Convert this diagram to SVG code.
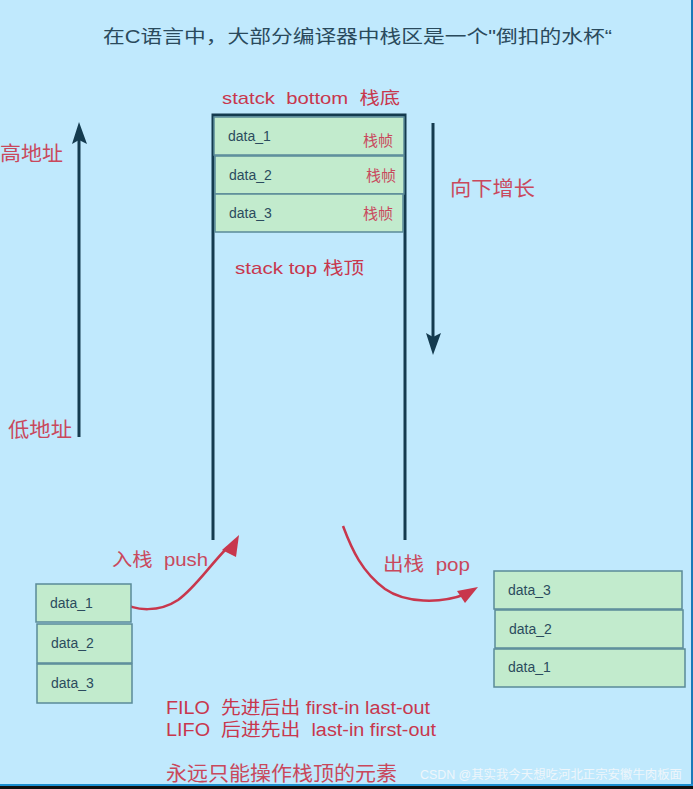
<svg xmlns="http://www.w3.org/2000/svg" width="693" height="789" viewBox="0 0 693 789" xml:space="preserve">
<style>
text{font-family:"Liberation Sans","Noto Sans CJK SC",sans-serif;white-space:pre}
.red{fill:#c8374d}
.lred{fill:#c9485c}
.dk{fill:#2a4a5c}
.frame{fill:#c2ebcd;stroke:#5a8a98;stroke-width:1.5}
.lbl{font-size:14px;fill:#2b4b5e}
.zh{font-size:15px;fill:#c9485c;font-family:"Noto Sans CJK SC",sans-serif}
.wall{stroke:#143b4f;stroke-width:3;fill:none}
.curve{stroke:#c8374d;stroke-width:2.5;fill:none}
</style>
<rect x="0" y="0" width="693" height="789" fill="#c0e9fd"/>
<rect x="691" y="0" width="2" height="789" fill="#1a7ab8"/>
<rect x="0" y="784" width="693" height="2" fill="#1a8fd0"/>
<rect x="0" y="786" width="693" height="3" fill="#101010"/>
<g id="title"><text x="103" y="43" font-size="18" class="dk" textLength="509" lengthAdjust="spacingAndGlyphs">在C语言中，大部分编译器中栈区是一个"倒扣的水杯“</text></g>
<g id="stack">
<text x="222" y="104" font-size="17" class="red" textLength="178" lengthAdjust="spacingAndGlyphs">statck  bottom  栈底</text>
<path class="wall" d="M213,540 V115 H405 V540"/>
<g id="frame1"><rect class="frame" x="214" y="117" width="190" height="38"/><text class="lbl" x="228" y="141">data_1</text><text class="zh" x="363" y="146">栈帧</text></g>
<g id="frame2"><rect class="frame" x="215" y="156" width="189" height="38"/><text class="lbl" x="229" y="180">data_2</text><text class="zh" x="366" y="181">栈帧</text></g>
<g id="frame3"><rect class="frame" x="215" y="194" width="188" height="38"/><text class="lbl" x="229" y="218">data_3</text><text class="zh" x="363" y="219">栈帧</text></g>
<text x="235" y="274" font-size="17" class="red" textLength="129" lengthAdjust="spacingAndGlyphs">stack top 栈顶</text>
</g>
<g id="addr">
<text x="0" y="161" font-size="20" class="lred" textLength="63" lengthAdjust="spacingAndGlyphs">高地址</text>
<text x="8" y="437" font-size="20" class="lred" textLength="64" lengthAdjust="spacingAndGlyphs">低地址</text>
<text x="450" y="196" font-size="20" class="lred" textLength="85" lengthAdjust="spacingAndGlyphs">向下增长</text>
</g>
<g id="connectors">
<line x1="79" y1="437" x2="79" y2="140" stroke="#143b4f" stroke-width="3"/>
<polygon points="79,122 72,144 79,140 87,144" fill="#143b4f"/>
<line x1="433" y1="123" x2="433" y2="337" stroke="#143b4f" stroke-width="3"/>
<polygon points="433,355 426,333 433,337 441,333" fill="#143b4f"/>
<path class="curve" d="M120,601 C135,612 160,612 178,600 C195,588 210,565 228,547"/>
<polygon points="239,535 222,550 236,557" fill="#c8374d"/>
<path class="curve" d="M343,526 C352,550 362,572 385,589 C405,603 440,604 466,594"/>
<polygon points="478,587 457,591 465,603" fill="#c8374d"/>
</g>
<g id="push">
<text x="112" y="566" font-size="18" class="lred" textLength="96" lengthAdjust="spacingAndGlyphs">入栈  push</text>
<g id="in1"><rect class="frame" x="36" y="584" width="95" height="38"/><text class="lbl" x="50" y="608">data_1</text></g>
<g id="in2"><rect class="frame" x="37" y="624" width="95" height="39"/><text class="lbl" x="51" y="648">data_2</text></g>
<g id="in3"><rect class="frame" x="37" y="664" width="95" height="39"/><text class="lbl" x="51" y="688">data_3</text></g>
</g>
<g id="pop">
<text x="383" y="571" font-size="19" class="lred" textLength="87" lengthAdjust="spacingAndGlyphs">出栈  pop</text>
<g id="out3"><rect class="frame" x="494" y="571" width="188" height="38"/><text class="lbl" x="508" y="595">data_3</text></g>
<g id="out2"><rect class="frame" x="495" y="610" width="188" height="38"/><text class="lbl" x="509" y="634">data_2</text></g>
<g id="out1"><rect class="frame" x="494" y="649" width="191" height="38"/><text class="lbl" x="508" y="672">data_1</text></g>
</g>
<g id="notes">
<text x="166" y="714" font-size="18" class="red" textLength="264" lengthAdjust="spacingAndGlyphs">FILO  先进后出 first-in last-out</text>
<text x="166" y="736" font-size="18" class="red" textLength="270" lengthAdjust="spacingAndGlyphs">LIFO  后进先出  last-in first-out</text>
<text x="166" y="781" font-size="20" class="lred" textLength="231" lengthAdjust="spacingAndGlyphs">永远只能操作栈顶的元素</text>
<text x="420" y="779" font-size="12" fill="#eef6fb" textLength="262" lengthAdjust="spacingAndGlyphs">CSDN @其实我今天想吃河北正宗安徽牛肉板面</text>
</g>
</svg>
